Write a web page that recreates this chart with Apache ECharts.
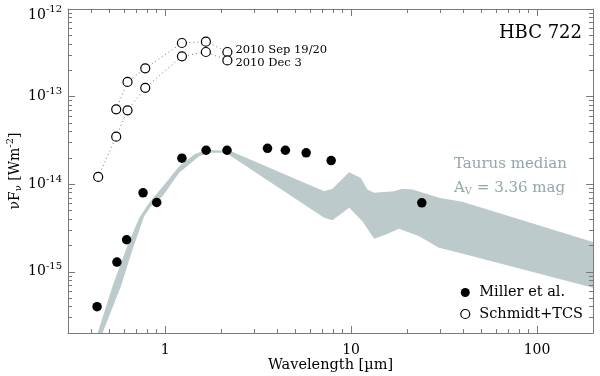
<!DOCTYPE html>
<html>
<head>
<meta charset="utf-8">
<script src="https://cdn.jsdelivr.net/npm/echarts@6/dist/echarts.min.js"></script>
<style>
  html, body { margin: 0; padding: 0; background: #fff; }
  #main { width: 600px; height: 376px; }
</style>
</head>
<body>
<div id="main"></div>
<script>
// Miller et al. photometry [wavelength um, nuFnu W m^-2]
const millerData = [
    [0.43, 4.0e-16], [0.55, 1.29e-15], [0.62, 2.32e-15], [0.76, 7.96e-15],
    [0.90, 6.18e-15], [1.23, 1.98e-14], [1.66, 2.44e-14], [2.15, 2.44e-14],
    [3.55, 2.57e-14], [4.43, 2.44e-14], [5.73, 2.28e-14], [7.81, 1.86e-14],
    [24.0, 6.12e-15]
];
// Schmidt+TCS, two epochs
const sepData = [
    [0.545, 7.16e-14], [0.627, 1.47e-13], [0.781, 2.10e-13],
    [1.23, 4.09e-13], [1.655, 4.24e-13], [2.16, 3.23e-13]
];
const decData = [
    [0.436, 1.21e-14], [0.545, 3.49e-14], [0.627, 6.97e-14], [0.781, 1.26e-13],
    [1.23, 2.88e-13], [1.655, 3.23e-13], [2.16, 2.59e-13]
];
// Taurus median envelope: upper edge left->right, lower edge right->left
const bandUpper = [
    [0.389, 1.0e-16], [0.433, 2.0e-16], [0.521, 6.85e-16], [0.615, 1.80e-15],
    [0.725, 4.13e-15], [0.820, 6.12e-15], [1.009, 1.04e-14], [1.189, 1.60e-14],
    [1.43, 2.18e-14], [1.655, 2.48e-14], [2.26, 2.38e-14], [7.16, 8.3e-15],
    [7.93, 8.85e-15], [9.76, 1.37e-14], [11.28, 1.18e-14], [12.23, 8.7e-15],
    [13.3, 7.96e-15], [17.0, 8.3e-15], [18.9, 8.85e-15], [21.4, 8.7e-15],
    [29.7, 6.98e-15], [39.6, 6.3e-15], [200, 2.19e-15]
];
const bandLower = [
    [200, 6.57e-16], [41.4, 1.57e-15], [29.7, 1.88e-15], [23.2, 2.55e-15],
    [18.1, 3.1e-15], [15.4, 2.67e-15], [13.3, 2.38e-15], [11.5, 3.78e-15],
    [9.76, 5.37e-15], [7.93, 3.88e-15], [7.16, 4.13e-15], [2.12, 2.28e-14],
    [1.72, 2.28e-14], [1.52, 2.08e-14], [1.346, 1.68e-14], [1.189, 1.35e-14],
    [0.967, 7.3e-15], [0.838, 5.6e-15], [0.771, 4.3e-15], [0.667, 1.8e-15],
    [0.578, 6.85e-16], [0.46, 2.0e-16], [0.404, 1.0e-16]
];
// ticks
const xMajor = [1, 10, 100];
const xMinor = [0.4, 0.5, 0.6, 0.7, 0.8, 0.9, 2, 3, 4, 5, 6, 7, 8, 9,
    20, 30, 40, 50, 60, 70, 80, 90];
const yMajor = [1e-15, 1e-14, 1e-13, 1e-12];
const yMinor = [3e-16, 4e-16, 5e-16, 6e-16, 7e-16, 8e-16, 9e-16,
    2e-15, 3e-15, 4e-15, 5e-15, 6e-15, 7e-15, 8e-15, 9e-15,
    2e-14, 3e-14, 4e-14, 5e-14, 6e-14, 7e-14, 8e-14, 9e-14,
    2e-13, 3e-13, 4e-13, 5e-13, 6e-13, 7e-13, 8e-13, 9e-13];

const X_MIN = 0.3, X_MAX = 200, Y_MIN = 2e-16, Y_MAX = 1e-12;
const FONT = 'DejaVu Serif';
const AXIS_COLOR = '#7a7a7a';
const BAND_COLOR = '#bccacc';
const TEXT_GREY = '#93a6a9';

// one log axis per side and tick size (major / minor), all sharing the same range
function logAxis(pos, min, max, ticks, len, withLine) {
    return {
        type: 'log', position: pos, min: min, max: max,
        axisLine: { show: withLine, lineStyle: { color: AXIS_COLOR, width: 1 } },
        axisTick: { show: true, inside: true, length: len, customValues: ticks,
            lineStyle: { color: AXIS_COLOR, width: 1 } },
        axisLabel: { show: false },
        splitLine: { show: false },
        z: 10
    };
}

const xAxes = [
    logAxis('bottom', X_MIN, X_MAX, xMajor, 7, true),
    logAxis('bottom', X_MIN, X_MAX, xMinor, 4, false),
    logAxis('top', X_MIN, X_MAX, xMajor, 7, true),
    logAxis('top', X_MIN, X_MAX, xMinor, 4, false)
];
xAxes[0].axisLabel = {
    show: true, customValues: xMajor, margin: 10,
    fontFamily: FONT, fontSize: 14, color: '#000'
};
xAxes[0].name = 'Wavelength [µm]';
xAxes[0].nameLocation = 'middle';
xAxes[0].nameGap = 25;
xAxes[0].nameMoveOverlap = false;
xAxes[0].nameTextStyle = { fontFamily: FONT, fontSize: 14.5, color: '#000' };

const yAxes = [
    logAxis('left', Y_MIN, Y_MAX, yMajor, 7, true),
    logAxis('left', Y_MIN, Y_MAX, yMinor, 4, false),
    logAxis('right', Y_MIN, Y_MAX, yMajor, 7, true),
    logAxis('right', Y_MIN, Y_MAX, yMinor, 4, false)
];
yAxes[0].axisLabel = {
    show: true, customValues: yMajor, margin: 6,
    formatter: function (v) {
        const e = Math.round(Math.log10(v));
        // the top label sits a little lower, as in the original
        if (e === -12) return '{bt|10}{st|' + e + '}';
        return '{b|10}{s|' + e + '}';
    },
    rich: {
        b: { fontFamily: FONT, fontSize: 14, color: '#000' },
        s: { fontFamily: FONT, fontSize: 10, color: '#000', padding: [0, 0, 10, 0] },
        bt: { fontFamily: FONT, fontSize: 14, color: '#000', padding: [12, 0, 0, 0] },
        st: { fontFamily: FONT, fontSize: 10, color: '#000', padding: [6, 0, 5, 0] }
    }
};
yAxes[0].name = '{b|νF}{d|ν}{b| [Wm}{s|-2}{b|]}';
yAxes[0].nameLocation = 'middle';
yAxes[0].nameGap = 43;
yAxes[0].nameMoveOverlap = false;
yAxes[0].nameTextStyle = {
    rich: {
        b: { fontFamily: FONT, fontSize: 14, color: '#000' },
        d: { fontFamily: FONT, fontSize: 10, color: '#000', padding: [6, 0, 0, 0] },
        s: { fontFamily: FONT, fontSize: 10, color: '#000', padding: [0, 0, 10, 0] }
    }
};

const openCircle = { color: '#fff', borderColor: '#000', borderWidth: 1.2, opacity: 1 };

const option = {
    animation: false,
    backgroundColor: '#fff',
    grid: { left: 68, right: 7, top: 9, bottom: 43, containLabel: false, outerBoundsMode: 'none' },
    xAxis: xAxes,
    yAxis: yAxes,
    legend: {
        data: [
            { name: 'Miller et al.', itemStyle: { color: '#000', borderWidth: 0, opacity: 1 } },
            { name: 'Schmidt+TCS', itemStyle: { color: '#fff', borderColor: '#000', borderWidth: 1.2, opacity: 1 } }
        ],
        orient: 'vertical', right: 17, top: 285, padding: 0,
        icon: 'circle', itemWidth: 18, itemHeight: 9, itemGap: 6.5,
        textStyle: { fontFamily: FONT, fontSize: 14.5, color: '#000' }
    },
    graphic: [
        { type: 'text', x: 582, y: 33,
          style: { text: 'HBC 722', font: '18px "DejaVu Serif"', fill: '#000',
                   align: 'right', verticalAlign: 'middle' } },
        { type: 'text', x: 454, y: 164,
          style: { text: 'Taurus median', font: '15px "DejaVu Serif"', fill: TEXT_GREY,
                   align: 'left', verticalAlign: 'middle' } },
        { type: 'text', x: 454, y: 188,
          style: { text: '{b|A}{d|V}{b| = 3.36 mag}', fill: TEXT_GREY,
                   align: 'left', verticalAlign: 'middle',
                   rich: {
                       b: { fontFamily: FONT, fontSize: 15, fill: TEXT_GREY },
                       d: { fontFamily: FONT, fontSize: 10, fill: TEXT_GREY, padding: [6, 0, 0, 0] }
                   } } }
    ],
    series: [
        {
            name: 'Taurus median', type: 'custom', clip: true, z: 1,
            xAxisIndex: 0, yAxisIndex: 0,
            data: bandUpper.concat(bandLower),
            encode: { x: 0, y: 1 },
            renderItem: function (params, api) {
                if (params.dataIndex !== 0) return;
                const pts = bandUpper.concat(bandLower).map(function (p) { return api.coord(p); });
                return { type: 'polygon', shape: { points: pts }, style: { fill: BAND_COLOR } };
            }
        },
        {
            name: 'Schmidt+TCS', type: 'line', z: 3, data: sepData,
            symbol: 'circle', symbolSize: 9, showAllSymbol: true,
            lineStyle: { type: [1, 3], width: 1, color: '#777' },
            itemStyle: openCircle,
            endLabel: { show: true, formatter: '2010 Sep 19/20', distance: 8, offset: [0, -1.5],
                fontFamily: FONT, fontSize: 11.5, color: '#000' }
        },
        {
            name: 'Schmidt+TCS', type: 'line', z: 3, data: decData,
            symbol: 'circle', symbolSize: 9, showAllSymbol: true,
            lineStyle: { type: [1, 3], width: 1, color: '#777' },
            itemStyle: openCircle,
            endLabel: { show: true, formatter: '2010 Dec 3', distance: 8, offset: [0, 2.5],
                fontFamily: FONT, fontSize: 11.5, color: '#000' }
        },
        {
            name: 'Miller et al.', type: 'scatter', z: 4, data: millerData,
            symbol: 'circle', symbolSize: 9.5,
            itemStyle: { color: '#000', opacity: 1 }
        }
    ]
};

const chart = echarts.init(document.getElementById('main'));
chart.setOption(option);
</script>
</body>
</html>
